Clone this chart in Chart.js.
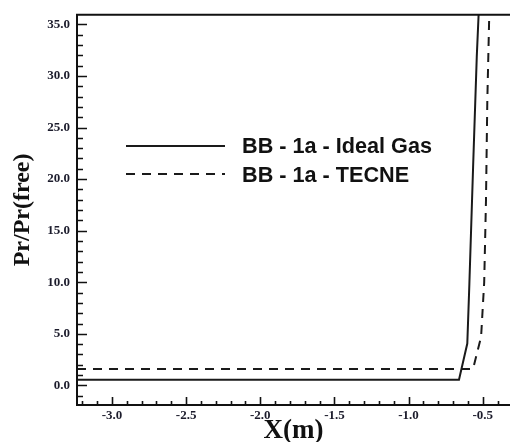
<!DOCTYPE html>
<html>
<head>
<meta charset="utf-8">
<script src="https://cdn.jsdelivr.net/npm/chart.js@4/dist/chart.umd.min.js"></script>
<style>
  html, body { margin: 0; padding: 0; background: #fff; }
  #wrap { width: 510px; height: 442px; }
</style>
</head>
<body>
<div id="wrap"><canvas id="graph" width="510" height="442"></canvas></div>
<script>
// values
var idealX = [-3.236, -0.66, -0.604, -0.59, -0.565, -0.54, -0.526];
var idealY = [0.55, 0.55, 4.06, 9.83, 21.1, 31.9, 36.5];
var tecneX = [-3.236, -0.565, -0.511, -0.49, -0.478, -0.469, -0.455];
var tecneY = [1.6, 1.6, 4.7, 10.0, 17.9, 27.6, 36.5];
var seriesNames = ["BB - 1a - Ideal Gas", "BB - 1a - TECNE"];
var xTicks = [-3.0, -2.5, -2.0, -1.5, -1.0, -0.5];
var yTicks = [0, 5, 10, 15, 20, 25, 30, 35];

function toPoints(xs, ys) {
  return xs.map(function (x, i) { return {x: x, y: ys[i]}; });
}

// inward ticks + open frame (no right side), drawn by hand
var framePlugin = {
  id: 'frame',
  afterDatasetsDraw: function (chart) {
    var ctx = chart.ctx, a = chart.chartArea;
    var x = chart.scales.x, y = chart.scales.y;
    ctx.save();
    ctx.strokeStyle = '#111';
    ctx.lineWidth = 2;
    ctx.beginPath();
    ctx.moveTo(a.right + 3, a.top);
    ctx.lineTo(a.left, a.top);
    ctx.lineTo(a.left, a.bottom);
    ctx.lineTo(a.right + 3, a.bottom);
    ctx.stroke();

    ctx.lineWidth = 1.6;
    ctx.beginPath();
    for (var v = -1; v <= 35; v++) {
      var py = Math.round(y.getPixelForValue(v)) + 0.5;
      var len = (v % 5 === 0) ? 10 : 6;
      ctx.moveTo(a.left, py);
      ctx.lineTo(a.left + len, py);
    }
    for (var k = -32; k <= -4; k++) {
      var px = Math.round(x.getPixelForValue(k / 10)) + 0.5;
      var l2 = (k % 5 === 0) ? 8 : 4;
      ctx.moveTo(px, a.bottom);
      ctx.lineTo(px, a.bottom - l2);
    }
    ctx.stroke();
    ctx.restore();
  }
};

var legendPlugin = {
  id: 'inlegend',
  afterDraw: function (chart) {
    var ctx = chart.ctx;
    var rows = [
      {dash: [], ly: 146, base: 153.3},
      {dash: [9, 7], ly: 174, base: 181.7}
    ];
    ctx.save();
    rows.forEach(function (r, i) {
      ctx.strokeStyle = '#1a1a1a';
      ctx.lineWidth = 2;
      ctx.setLineDash(r.dash);
      ctx.beginPath();
      ctx.moveTo(126, r.ly);
      ctx.lineTo(225, r.ly);
      ctx.stroke();
      ctx.setLineDash([]);
      ctx.font = 'bold 22px "Liberation Sans", Arial, sans-serif';
      ctx.fillStyle = '#111';
      ctx.textBaseline = 'alphabetic';
      var w = ctx.measureText(seriesNames[0]).width;
      var s = 190 / w;
      ctx.save();
      ctx.translate(242, r.base);
      ctx.scale(s, 1);
      ctx.fillText(seriesNames[i], 0, 0);
      ctx.restore();
    });
    ctx.restore();
  }
};

new Chart("graph", {
  type: "line",
  data: {
    datasets: [{
      label: seriesNames[0],
      data: toPoints(idealX, idealY),
      borderColor: '#1a1a1a',
      borderWidth: 2,
      pointRadius: 0,
      tension: 0
    }, {
      label: seriesNames[1],
      data: toPoints(tecneX, tecneY),
      borderColor: '#1a1a1a',
      borderWidth: 2,
      borderDash: [9, 7],
      pointRadius: 0,
      tension: 0
    }]
  },
  options: {
    responsive: false,
    animation: false,
    layout: {padding: {top: 13, right: 0, left: 0, bottom: 0}},
    plugins: {legend: {display: false}, tooltip: {enabled: false}},
    scales: {
      x: {
        type: 'linear',
        min: -3.236,
        max: -0.316,
        grid: {display: false, drawTicks: false, tickLength: 0},
        border: {display: false},
        afterBuildTicks: function (scale) {
          scale.ticks = xTicks.map(function (v) { return {value: v}; });
        },
        afterFit: function (scale) { scale.height = 37; },
        ticks: {
          padding: 3,
          maxRotation: 0,
          autoSkip: false,
          color: '#1c1c2c',
          font: {family: '"Liberation Serif", "Times New Roman", serif', size: 13, weight: 'bold'},
          callback: function (v) { return Number(v).toFixed(1); }
        },
        title: {
          display: true,
          text: 'X(m)',
          color: '#111',
          padding: 0,
          font: {family: '"Liberation Serif", "Times New Roman", serif', size: 27, weight: 'bold', lineHeight: 0.8}
        }
      },
      y: {
        type: 'linear',
        min: -1.9,
        max: 35.93,
        grid: {display: false, drawTicks: false, tickLength: 0},
        border: {display: false},
        afterBuildTicks: function (scale) {
          scale.ticks = yTicks.map(function (v) { return {value: v}; });
        },
        afterFit: function (scale) { scale.width = 77; },
        ticks: {
          padding: 7,
          autoSkip: false,
          color: '#1c1c2c',
          font: {family: '"Liberation Serif", "Times New Roman", serif', size: 13, weight: 'bold'},
          callback: function (v) { return Number(v).toFixed(1); }
        },
        title: {
          display: true,
          text: 'Pr/Pr(free)',
          color: '#111',
          padding: {top: 8, bottom: 0},
          font: {family: '"Liberation Serif", "Times New Roman", serif', size: 24, weight: 'bold', lineHeight: 1.2}
        }
      }
    }
  },
  plugins: [framePlugin, legendPlugin]
});
</script>
</body>
</html>
